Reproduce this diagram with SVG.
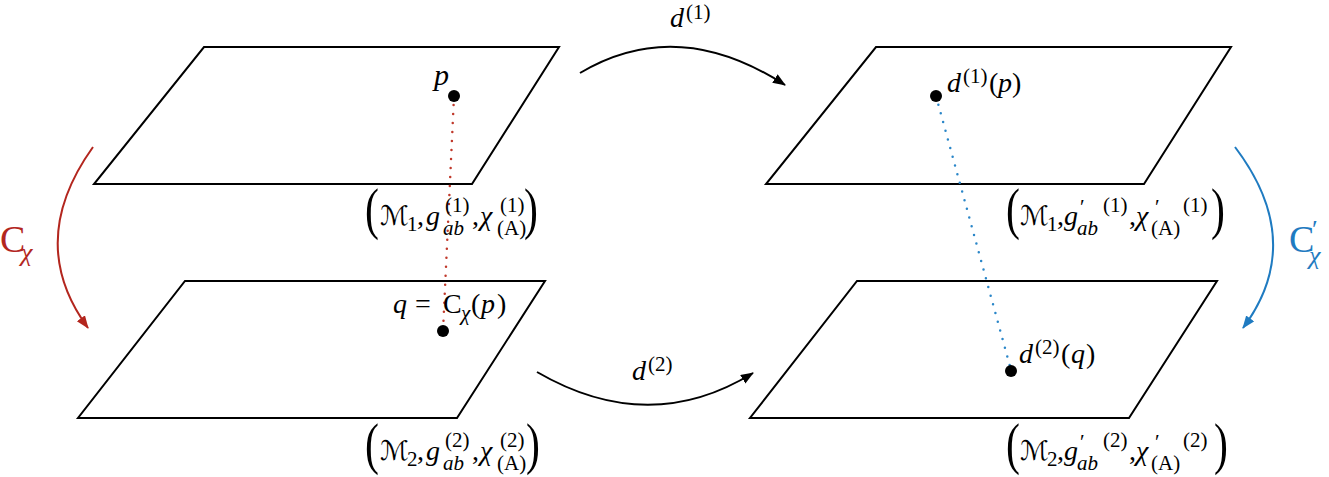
<svg xmlns="http://www.w3.org/2000/svg" width="1329" height="477" viewBox="0 0 1329 477" font-family="'Liberation Serif', 'Times New Roman', serif">
<defs>
<marker id="ah" markerUnits="userSpaceOnUse" markerWidth="14" markerHeight="12" refX="12" refY="5" orient="auto"><path d="M0,0 L13,5 L0,10 z" fill="#000"/></marker>
<marker id="ahr" markerUnits="userSpaceOnUse" markerWidth="14" markerHeight="12" refX="12" refY="5" orient="auto"><path d="M0,0 L13,5 L0,10 z" fill="#b3261e"/></marker>
<marker id="ahb" markerUnits="userSpaceOnUse" markerWidth="14" markerHeight="12" refX="12" refY="5" orient="auto"><path d="M0,0 L13,5 L0,10 z" fill="#1f7bc1"/></marker>
</defs>
<style>
.plane{fill:none;stroke:#000;stroke-width:2;stroke-linejoin:miter}
text{font-family:"Liberation Serif","Times New Roman",serif;fill:#000}
.m{font-size:28px}
.i{font-style:italic}
.s{font-size:21px}
.scr{font-family:"DejaVu Serif","DejaVu Sans",serif;font-size:27px}
.par{font-size:58px}
.arc{fill:none;stroke-width:2}
.dot{fill:#000}
</style>
<g id="plane1"><path class="plane" d="M204,47 L559,47 L472,184 L94,184 Z"/></g>
<g id="plane2"><path class="plane" d="M185,281 L545,281 L457,418 L78,418 Z"/></g>
<g id="plane3"><path class="plane" d="M876,47 L1231,47 L1144,184 L766,184 Z"/></g>
<g id="plane4"><path class="plane" d="M857,281 L1217,281 L1129,418 L750,418 Z"/></g>

<g id="connectors">
<path class="arc" stroke="#000" d="M580,73 Q677,15 785,85" marker-end="url(#ah)"/>
<path class="arc" stroke="#000" d="M537,372 Q649,437 753,373" marker-end="url(#ah)"/>
<path class="arc" stroke="#b3261e" d="M93,147 Q25,242 88,328" marker-end="url(#ahr)"/>
<path class="arc" stroke="#1f7bc1" d="M1235,147 Q1307,242 1243,328" marker-end="url(#ahb)"/>
<line x1="454" y1="96" x2="443" y2="331" stroke="#c0392b" stroke-width="2.5" stroke-linecap="round" stroke-dasharray="0 9"/>
<line x1="936" y1="96" x2="1011" y2="370" stroke="#2a86c8" stroke-width="2.5" stroke-linecap="round" stroke-dasharray="0 9"/>
</g>

<g id="point-p">
<circle class="dot" cx="454" cy="96" r="6"/>
<text class="i" x="434" y="85" font-size="30">p</text>
</g>
<g id="point-q">
<circle class="dot" cx="443" cy="331" r="6"/>
<text class="m i" x="393" y="313">q</text>
<text class="m" x="415" y="313">=</text>
<text class="m" x="443" y="313">C</text>
<text class="s i" x="461" y="320">χ</text>
<text class="m" x="471" y="313">(</text>
<text class="m i" x="481" y="313">p</text>
<text class="m" x="497" y="313">)</text>
</g>
<g id="point-d1p">
<circle class="dot" cx="936" cy="96" r="6"/>
<text class="m i" x="947" y="92">d</text>
<text class="s" x="963" y="83">(1)</text>
<text class="m" x="989" y="92">(</text>
<text class="m i" x="998" y="92">p</text>
<text class="m" x="1012" y="92">)</text>
</g>
<g id="point-d2q">
<circle class="dot" cx="1011" cy="371" r="6"/>
<text class="m i" x="1019" y="363">d</text>
<text class="s" x="1035" y="354">(2)</text>
<text class="m" x="1061" y="363">(</text>
<text class="m i" x="1071" y="363">q</text>
<text class="m" x="1086" y="363">)</text>
</g>

<g id="label-d1">
<text class="m i" x="670" y="27">d</text>
<text class="s" x="686" y="19">(1)</text>
</g>
<g id="label-d2">
<text class="m i" x="632" y="380">d</text>
<text class="s" x="648" y="371">(2)</text>
</g>
<g id="label-C">
<text x="0" y="252" font-size="38" style="fill:#b3261e">C</text>
<text class="i" x="21" y="261" font-size="26" style="fill:#b3261e">χ</text>
</g>
<g id="label-Cp">
<text x="1289" y="252" font-size="38" style="fill:#1f7bc1">C</text>
<text x="1312" y="238" font-size="26" style="fill:#1f7bc1">′</text>
<text class="i" x="1309" y="264" font-size="26" style="fill:#1f7bc1">χ</text>
</g>

<g id="label-1">
<text class="par" transform="translate(365,228) scale(0.72,1)">(</text>
<text class="scr" x="380" y="225">ℳ</text>
<text class="s" x="407" y="231">1</text>
<text class="m" x="417" y="225">,</text>
<text class="m i" x="426" y="225">g</text>
<text class="s" x="445" y="212">(1)</text>
<text class="s i" x="443" y="235">ab</text>
<text class="m" x="472" y="225">,</text>
<text class="m i" x="480" y="225">χ</text>
<text class="s" x="500" y="212">(1)</text>
<text class="s" x="497" y="235">(A)</text>
<text class="par" transform="translate(524,228) scale(0.72,1)">)</text>
</g>
<g id="label-2">
<text class="par" transform="translate(365,463) scale(0.72,1)">(</text>
<text class="scr" x="380" y="460">ℳ</text>
<text class="s" x="407" y="466">2</text>
<text class="m" x="417" y="460">,</text>
<text class="m i" x="426" y="460">g</text>
<text class="s" x="445" y="447">(2)</text>
<text class="s i" x="443" y="470">ab</text>
<text class="m" x="472" y="460">,</text>
<text class="m i" x="480" y="460">χ</text>
<text class="s" x="500" y="447">(2)</text>
<text class="s" x="497" y="470">(A)</text>
<text class="par" transform="translate(526,463) scale(0.72,1)">)</text>
</g>
<g id="label-3">
<text class="par" transform="translate(1006,228) scale(0.72,1)">(</text>
<text class="scr" x="1020" y="225">ℳ</text>
<text class="s" x="1047" y="231">1</text>
<text class="m" x="1057" y="225">,</text>
<text class="m i" x="1064" y="225">g</text>
<text class="s" x="1080" y="214">′</text>
<text class="s i" x="1077" y="235">ab</text>
<text class="s" x="1103" y="212">(1)</text>
<text class="m" x="1129" y="225">,</text>
<text class="m i" x="1136" y="225">χ</text>
<text class="s" x="1155" y="214">′</text>
<text class="s" x="1151" y="235">(A)</text>
<text class="s" x="1183" y="212">(1)</text>
<text class="par" transform="translate(1211,228) scale(0.72,1)">)</text>
</g>
<g id="label-4">
<text class="par" transform="translate(1006,463) scale(0.72,1)">(</text>
<text class="scr" x="1020" y="460">ℳ</text>
<text class="s" x="1047" y="466">2</text>
<text class="m" x="1057" y="460">,</text>
<text class="m i" x="1064" y="460">g</text>
<text class="s" x="1080" y="449">′</text>
<text class="s i" x="1077" y="470">ab</text>
<text class="s" x="1103" y="447">(2)</text>
<text class="m" x="1129" y="460">,</text>
<text class="m i" x="1136" y="460">χ</text>
<text class="s" x="1155" y="449">′</text>
<text class="s" x="1151" y="470">(A)</text>
<text class="s" x="1183" y="447">(2)</text>
<text class="par" transform="translate(1214,463) scale(0.72,1)">)</text>
</g>
</svg>
